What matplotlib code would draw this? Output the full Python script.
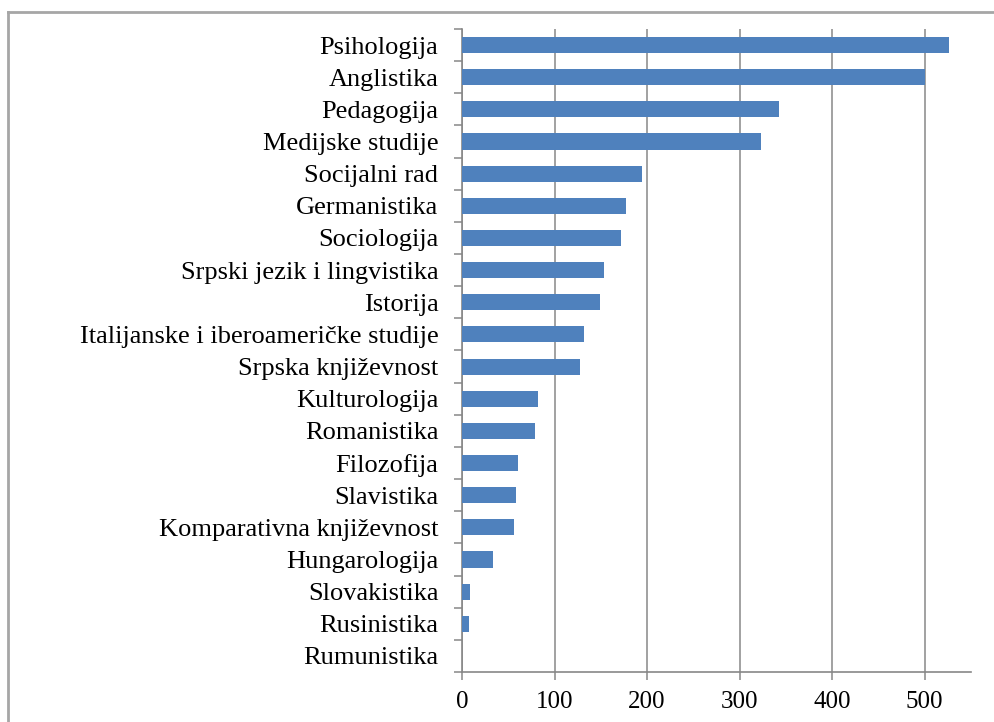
import numpy as np
import matplotlib
matplotlib.use("Agg")
import matplotlib.pyplot as plt
from matplotlib.lines import Line2D

# study programmes, top to bottom as in the chart
programs = ["Psihologija", "Anglistika", "Pedagogija", "Medijske studije",
            "Socijalni rad", "Germanistika", "Sociologija",
            "Srpski jezik i lingvistika", "Istorija",
            "Italijanske i iberoameričke studije", "Srpska književnost",
            "Kulturologija", "Romanistika", "Filozofija", "Slavistika",
            "Komparativna književnost", "Hungarologija", "Slovakistika",
            "Rusinistika", "Rumunistika"]
counts = [526, 500, 343, 323, 195, 177, 172, 153, 149, 132, 128,
          82, 79, 61, 58, 56, 33, 9, 8, 0]
xticks = [0, 100, 200, 300, 400, 500]

plt.rcParams['font.family'] = ['Liberation Serif', 'DejaVu Serif']

W, H = 995, 722
fig = plt.figure(figsize=(W / 100, H / 100), dpi=100)
ax = fig.add_axes([462 / W, (H - 672) / H, (971 - 462) / W, (672 - 29) / H])

n = len(programs)
ypos = np.arange(n)[::-1]
ax.barh(ypos, counts, height=0.5, color='#4F81BD', zorder=3)

ax.set_xlim(0, 550)
ax.set_ylim(-0.5, n - 0.5)
ax.set_xticks(xticks)
ax.set_xticklabels([str(t) for t in xticks], fontsize=18)
ax.grid(axis='x', color='#878787', linewidth=1.1, zorder=0)

# tick marks at category boundaries, labels at centres
ax.set_yticks(np.arange(n + 1) - 0.5)
ax.set_yticklabels([])
ax.set_yticks(ypos, minor=True)
ax.set_yticklabels(programs, minor=True, fontsize=19)
ax.tick_params(axis='y', which='major', length=6, width=1.1, color='#878787')
ax.tick_params(axis='y', which='minor', length=0, pad=17)
ax.tick_params(axis='x', length=6, width=1.1, color='#878787', pad=8)

for s in ['top', 'right']:
    ax.spines[s].set_visible(False)
for s in ['left', 'bottom']:
    ax.spines[s].set_color('#878787')
    ax.spines[s].set_linewidth(1.2)

# outer chart-area border (left and top edges visible)
fig.add_artist(Line2D([8 / W, 8 / W], [0, 1 - 12 / H], transform=fig.transFigure,
                      color='#A6A6A6', linewidth=2))
fig.add_artist(Line2D([8 / W, 1], [1 - 12 / H, 1 - 12 / H], transform=fig.transFigure,
                      color='#A6A6A6', linewidth=2))

plt.savefig('out.png', dpi=100)
